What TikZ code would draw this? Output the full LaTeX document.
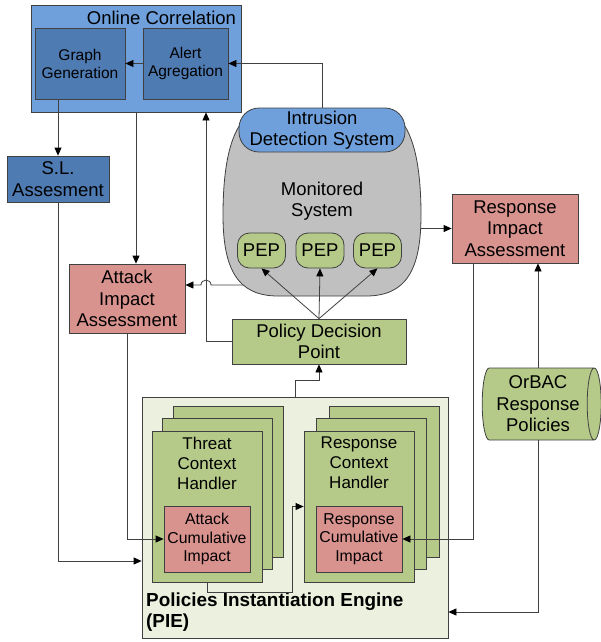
\documentclass[tikz,border=0pt]{standalone}
\usepackage{fontspec}
\setmainfont{Liberation Sans}
\usetikzlibrary{arrows.meta,shapes.geometric}

\definecolor{ocblue}{HTML}{6FA0DC}
\definecolor{darkblue}{HTML}{4F7BB3}
\definecolor{pepgreen}{HTML}{B5CA88}
\definecolor{assesred}{HTML}{D9938F}
\definecolor{msgray}{HTML}{C0C0C0}
\definecolor{piebg}{HTML}{EBF1DE}
\definecolor{edge}{HTML}{404040}

\tikzset{
	box/.style = {draw = edge, line width = 0.8pt, rectangle, inner sep = 0pt, align = center, font = \fontsize{18.5}{21.5}\selectfont},
	bluebox/.style = {box, fill = darkblue},
	redbox/.style = {box, fill = assesred},
	greenbox/.style = {box, fill = pepgreen},
	smalltext/.style = {font = \fontsize{15.5}{18}\selectfont},
	cumtext/.style = {font = \fontsize{15.8}{18.5}\selectfont},
	handlertext/.style = {align = center, font = \fontsize{17}{20}\selectfont},
	stack/.style = {draw = edge, line width = 0.8pt, fill = pepgreen},
	link/.style = {draw = edge, line width = 0.8pt},
}

\begin{document}
\begin{tikzpicture} [x = 1pt, y = -1pt, > = {Triangle[length = 8pt, width = 7pt, color = black]}]
			\useasboundingbox (0,0) rectangle (601,642);
			
			\node [box, fill = ocblue, minimum width = 210pt, minimum height = 107pt] (oc) at (136,58.5) {};
			\node [font = \fontsize{18.5}{21.5}\selectfont] (octitle) at (161.5,18) {Online Correlation};
			\node [bluebox, smalltext, minimum width = 90pt, minimum height = 71pt] (gg) at (80,63.5) {Graph\\Generation};
			\node [bluebox, smalltext, minimum width = 85pt, minimum height = 71pt] (aa) at (185.5,63.5) {Alert\\Agregation};
			\node [bluebox, minimum width = 102pt, minimum height = 46pt] (sl) at (58,179) {S.L.\\Assesment};
			\node [redbox, minimum width = 116pt, minimum height = 69pt] (aia) at (127,298.5) {Attack\\Impact\\Assessment};
			\node [redbox, minimum width = 126pt, minimum height = 69pt] (ria) at (515,228.5) {Response\\Impact\\Assessment};
			\node [greenbox, minimum width = 174pt, minimum height = 45pt] (pdp) at (319,341.5) {Policy Decision\\Point};
			
			\coordinate (msW) at (260,285);
			\coordinate (msE) at (421,228.5);
			\draw [link, ->] (msW) -- (211,285) .. controls (211,278.5) and (201,278.5) .. (201,285) -- (aia.east |- msW);
			\draw [link, ->] (msE) to (ria.west);
			
			\draw [draw = edge, line width = 0.8pt, fill = msgray] (242,122) .. controls (228,140) and (223,175) .. (223,215) .. controls (223,270) and (238,296) .. (278,296) -- (366,296) .. controls (406,296) and (421,270) .. (421,215) .. controls (421,175) and (416,140) .. (402,122) -- cycle;
			\node [box, fill = ocblue, rounded corners = 20pt, minimum width = 166pt, minimum height = 44pt] (ids) at (322,130) {Intrusion\\Detection System};
			\node [box, draw = none] (ms) at (322,201) {Monitored\\System};
			\node [greenbox, rounded corners = 12pt, minimum width = 48pt, minimum height = 35pt] (pep1) at (261.5,250.5) {PEP};
			\node [greenbox, rounded corners = 12pt, minimum width = 48pt, minimum height = 35pt] (pep2) at (320,250.5) {PEP};
			\node [greenbox, rounded corners = 12pt, minimum width = 48pt, minimum height = 35pt] (pep3) at (377.5,250.5) {PEP};
			
			\node [box, fill = piebg, minimum width = 306pt, minimum height = 241pt] (pie) at (295,517.5) {};
			\foreach \d in {2,1} {
				\draw [stack] (152+10.5*\d, 431-12.5*\d) rectangle ++(110,151);
				\draw [stack] (304+12.5*\d, 431-12.5*\d) rectangle ++(110,151);
			}
			\node [greenbox, minimum width = 110pt, minimum height = 151pt] (tch) at (207,506.5) {};
			\node [handlertext] (tchtext) at (207,463) {Threat\\Context\\Handler};
			\node [redbox, cumtext, minimum width = 86pt, minimum height = 66pt] (aci) at (207,539) {Attack\\Cumulative\\Impact};
			\node [greenbox, minimum width = 110pt, minimum height = 151pt] (rch) at (359,506.5) {};
			\node [handlertext] (rchtext) at (359,463) {Response\\Context\\Handler};
			\node [redbox, cumtext, minimum width = 86pt, minimum height = 66pt] (rci) at (359,539) {Response\\Cumulative\\Impact};
			\node [anchor = north west, align = left, inner sep = 0pt, font = \bfseries\fontsize{18.9}{21}\selectfont] (pietitle) at (146,593) {Policies Instantiation Engine\\(PIE)};
			
			\node [cylinder, draw = edge, line width = 0.8pt, fill = pepgreen, aspect = 0.25, minimum width = 72pt, minimum height = 119pt, inner sep = 0pt, align = center, font = \fontsize{18.5}{21.5}\selectfont] (orbac) at (538,404) {OrBAC\\Response\\Policies};
			
			\draw [link, ->] (aa) to (gg);
			\draw [link, ->] (ids.north) |- (aa.east);
			\draw [link, ->] (sl |- gg.south) to (sl.north);
			\draw [link, ->] (oc.south) to (oc.south |- aia.north);
			\draw [link, ->] (pdp.west) -| ([xshift = 70pt] oc.south);
			\draw [link, ->] (pdp.north) to (pep1.south);
			\draw [link, ->] (pdp.north) to (pep2.south);
			\draw [link, ->] (pdp.north) to (pep3.south);
			\draw [link, ->] (pie.north) -- ++(0,-16) -| (pdp.south);
			\draw [link, ->] (sl.south) |- ([yshift = -43.5pt] pie.west);
			\draw [link, ->] (aia.south) |- (aci.west);
			\draw [link, ->] (tch.south) -- ++(0,10) -| ([xshift = -11pt] rch.west) -- (rch.west);
			\draw [link, ->] ([xshift = -42pt] ria.south) |- (rci.east);
			\draw [link, ->] (orbac.north) to (orbac.north |- ria.south);
			\draw [link, ->] (orbac.south) |- ([yshift = -94.5pt] pie.east);
		\end{tikzpicture}
\end{document}
